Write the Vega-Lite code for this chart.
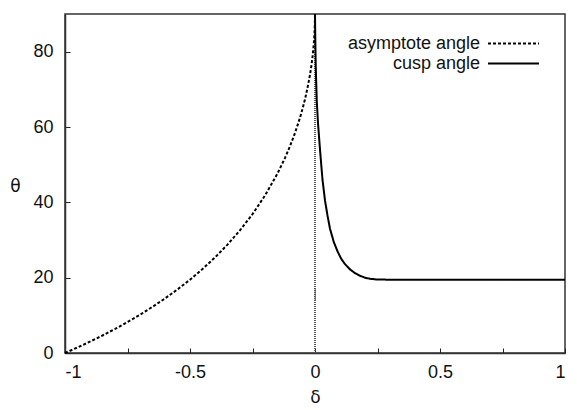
{
  "$schema": "https://vega.github.io/schema/vega-lite/v6.json",
  "autosize": "none",
  "width": 500,
  "height": 339,
  "padding": {"left": 65, "top": 14, "right": 12, "bottom": 57},
  "background": "white",
  "config": {
    "font": "Liberation Sans",
    "view": {"stroke": "#333", "strokeWidth": 1.5},
    "axis": {"grid": false, "domainColor": "#333", "tickColor": "#333", "labelColor": "#111", "titleColor": "#111", "labelFont": "Liberation Sans", "titleFont": "DejaVu Sans", "labelFontSize": 18, "titleFontSize": 17, "titleFontWeight": "normal", "domainWidth": 1.5, "tickWidth": 1}
  },
  "data": {"values": [
    {"d": -1, "t": 0, "s": "asymptote angle"},
    {"d": -0.95, "t": 1.47, "s": "asymptote angle"},
    {"d": -0.9, "t": 3.02, "s": "asymptote angle"},
    {"d": -0.85, "t": 4.65, "s": "asymptote angle"},
    {"d": -0.8, "t": 6.38, "s": "asymptote angle"},
    {"d": -0.75, "t": 8.21, "s": "asymptote angle"},
    {"d": -0.7, "t": 10.16, "s": "asymptote angle"},
    {"d": -0.65, "t": 12.25, "s": "asymptote angle"},
    {"d": -0.6, "t": 14.48, "s": "asymptote angle"},
    {"d": -0.55, "t": 16.88, "s": "asymptote angle"},
    {"d": -0.5, "t": 19.47, "s": "asymptote angle"},
    {"d": -0.45, "t": 22.29, "s": "asymptote angle"},
    {"d": -0.4, "t": 25.38, "s": "asymptote angle"},
    {"d": -0.35, "t": 28.78, "s": "asymptote angle"},
    {"d": -0.3, "t": 32.58, "s": "asymptote angle"},
    {"d": -0.25, "t": 36.87, "s": "asymptote angle"},
    {"d": -0.2, "t": 41.81, "s": "asymptote angle"},
    {"d": -0.15, "t": 47.66, "s": "asymptote angle"},
    {"d": -0.12, "t": 51.79, "s": "asymptote angle"},
    {"d": -0.1, "t": 54.9, "s": "asymptote angle"},
    {"d": -0.08, "t": 58.41, "s": "asymptote angle"},
    {"d": -0.06, "t": 62.46, "s": "asymptote angle"},
    {"d": -0.05, "t": 64.8, "s": "asymptote angle"},
    {"d": -0.04, "t": 67.38, "s": "asymptote angle"},
    {"d": -0.03, "t": 70.34, "s": "asymptote angle"},
    {"d": -0.02, "t": 73.87, "s": "asymptote angle"},
    {"d": -0.015, "t": 76.04, "s": "asymptote angle"},
    {"d": -0.01, "t": 78.58, "s": "asymptote angle"},
    {"d": -0.005, "t": 81.91, "s": "asymptote angle"},
    {"d": -0.002, "t": 84.88, "s": "asymptote angle"},
    {"d": -0.0005, "t": 87.44, "s": "asymptote angle"},
    {"d": 0, "t": 90, "s": "asymptote angle"},
    {"d": 0, "t": 90, "s": "cusp angle"},
    {"d": 0.001, "t": 84, "s": "cusp angle"},
    {"d": 0.003, "t": 76, "s": "cusp angle"},
    {"d": 0.007, "t": 67, "s": "cusp angle"},
    {"d": 0.012, "t": 61, "s": "cusp angle"},
    {"d": 0.02, "t": 54, "s": "cusp angle"},
    {"d": 0.03, "t": 46, "s": "cusp angle"},
    {"d": 0.04, "t": 40.5, "s": "cusp angle"},
    {"d": 0.05, "t": 36.5, "s": "cusp angle"},
    {"d": 0.06, "t": 33, "s": "cusp angle"},
    {"d": 0.075, "t": 29.5, "s": "cusp angle"},
    {"d": 0.09, "t": 27, "s": "cusp angle"},
    {"d": 0.105, "t": 25, "s": "cusp angle"},
    {"d": 0.12, "t": 23.6, "s": "cusp angle"},
    {"d": 0.14, "t": 22.2, "s": "cusp angle"},
    {"d": 0.16, "t": 21.2, "s": "cusp angle"},
    {"d": 0.18, "t": 20.5, "s": "cusp angle"},
    {"d": 0.2, "t": 20, "s": "cusp angle"},
    {"d": 0.22, "t": 19.7, "s": "cusp angle"},
    {"d": 0.25, "t": 19.5, "s": "cusp angle"},
    {"d": 0.3, "t": 19.47, "s": "cusp angle"},
    {"d": 0.5, "t": 19.47, "s": "cusp angle"},
    {"d": 1, "t": 19.47, "s": "cusp angle"}
  ]},
  "layer": [
    {
      "mark": {"type": "rule", "color": "#555", "strokeDash": [1, 1], "strokeWidth": 1},
      "encoding": {
        "x": {"datum": 0, "type": "quantitative", "scale": {"domain": [-1, 1], "nice": false},
          "axis": {"orient": "bottom", "values": [-1, -0.75, -0.5, -0.25, 0, 0.25, 0.5, 0.75, 1], "labelExpr": "datum.value % 0.5 == 0 ? replace(format(datum.value, '~g'), '\u2212', '-') : ''", "labelOverlap": false, "ticks": true, "tickSize": -5, "tickColor": "#222", "labelPadding": 15, "title": "δ", "titlePadding": 8}},
        "y": {"datum": 0, "type": "quantitative", "scale": {"domain": [0, 90], "nice": false},
          "axis": {"orient": "left", "values": [0, 10, 20, 30, 40, 50, 60, 70, 80, 90], "labelOverlap": false, "ticks": true, "tickSize": -5, "tickColor": "#222", "labelPadding": 17, "title": "θ", "titleAngle": 0, "titleAlign": "center", "titleBaseline": "middle", "titleX": -50, "titleY": 172}},
        "y2": {"datum": 90}
      }
    },
    {
      "mark": {"type": "line", "strokeWidth": 2, "color": "black"},
      "encoding": {
        "x": {"field": "d", "type": "quantitative", "scale": {"domain": [-1, 1], "nice": false}},
        "y": {"field": "t", "type": "quantitative", "scale": {"domain": [0, 90], "nice": false}},
        "strokeDash": {"field": "s", "type": "nominal", "scale": {"domain": ["asymptote angle", "cusp angle"], "range": [[3, 2], [1, 0]]},
          "legend": {"title": null, "orient": "none", "legendX": 439, "legendY": 20, "symbolType": "M-3,0H3", "symbolSize": 289, "symbolStrokeColor": "black", "symbolStrokeWidth": 2, "labelAlign": "right", "labelOffset": -43, "labelFontSize": 18, "labelFont": "Liberation Sans", "labelColor": "#111", "rowPadding": 1, "padding": 0}},
        "detail": {"field": "s"}
      }
    }
  ]
}
